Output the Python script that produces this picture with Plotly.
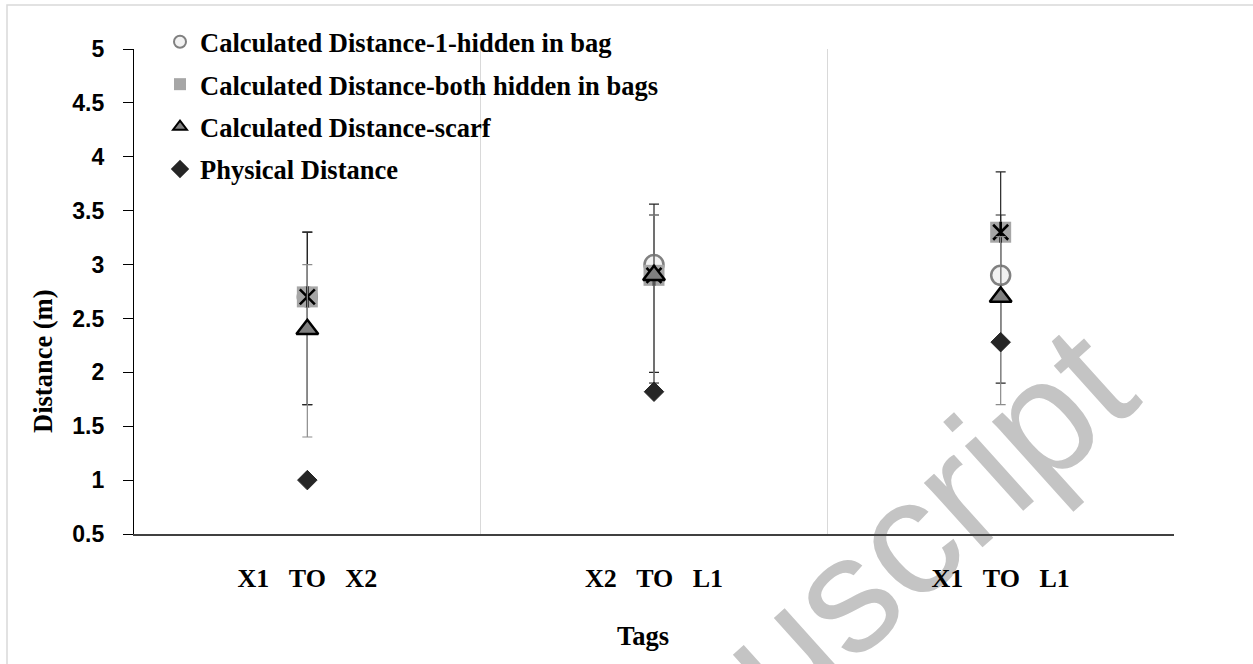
import plotly.graph_objects as go

# Tag pairs on the x axis
NB = "\u00a0" * 3
tags = [f"X1{NB}TO{NB}X2", f"X2{NB}TO{NB}L1", f"X1{NB}TO{NB}L1"]

# Distances in metres
hidden_one = [2.7, 3.0, 2.9]      # Calculated Distance-1-hidden in bag
hidden_both = [2.7, 2.9, 3.3]     # Calculated Distance-both hidden in bags
scarf = [2.4, 2.9, 2.7]           # Calculated Distance-scarf
physical = [1.0, 1.82, 2.28]      # Physical Distance

# Asymmetric error (upper / lower) on the calculated distances
err_plus = [0.6, 0.56, 0.56]
err_minus = [1.0, 1.0, 1.0]

W, H = 1253, 664
L, R, T, B = 134, 79, 49, 130
PW, PH = W - L - R, H - T - B


def px_x(px):
    return (px - L) / PW


def px_y(py):
    return (H - B - py) / PH


serif = dict(family="Liberation Serif", weight="bold", color="black")

fig = go.Figure()

fig.add_trace(go.Scatter(
    x=tags, y=hidden_one, mode="markers", name="Calculated Distance-1-hidden in bag",
    legendgroup="a",
    marker=dict(symbol="circle", size=19, color="#f2f2f2", line=dict(color="#808080", width=2.5)),
    error_y=dict(type="data", symmetric=False, array=err_plus, arrayminus=err_minus,
                 color="#262626", thickness=1.2, width=5),
))

fig.add_trace(go.Scatter(
    x=tags, y=hidden_both, mode="markers", name="Calculated Distance-both hidden in bags",
    legendgroup="b",
    marker=dict(symbol="square", size=21, color="#a6a6a6", line=dict(width=0)),
    error_y=dict(type="data", symmetric=False, array=err_plus, arrayminus=err_minus,
                 color="#262626", thickness=1.2, width=5),
))
# asterisk drawn over the grey square
for sym in ("x-thin-open", "line-ns-open"):
    fig.add_trace(go.Scatter(
        x=tags, y=hidden_both, mode="markers", showlegend=False, legendgroup="b",
        hoverinfo="skip",
        marker=dict(symbol=sym, size=15, color="black", line=dict(color="black", width=2.6)),
    ))

fig.add_trace(go.Scatter(
    x=tags, y=scarf, mode="markers", name="Calculated Distance-scarf",
    legendgroup="c",
    marker=dict(symbol="triangle-up", size=19, color="#808080", line=dict(color="black", width=2.5)),
    error_y=dict(type="data", symmetric=False, array=err_plus, arrayminus=err_minus,
                 color="#8c8c8c", thickness=1.2, width=5),
))

fig.add_trace(go.Scatter(
    x=tags, y=physical, mode="markers", name="Physical Distance",
    legendgroup="d",
    marker=dict(symbol="diamond", size=15, color="#262626", line=dict(color="#262626", width=1)),
))

fig.update_layout(
    width=W, height=H,
    margin=dict(l=L, r=R, t=T, b=B, autoexpand=False),
    paper_bgcolor="white", plot_bgcolor="white",
    showlegend=True,
    legend=dict(
        x=px_x(160), y=px_y(18), xanchor="left", yanchor="top",
        font=dict(size=26.5, **serif),
        itemsizing="constant", traceorder="grouped", tracegroupgap=5,
        bgcolor="rgba(0,0,0,0)", borderwidth=0,
    ),
    xaxis=dict(
        type="category", range=[-0.5, 2.5],
        tickson="boundaries", showgrid=True, gridcolor="#d9d9d9", gridwidth=1,
        ticks="", showline=True, linecolor="#404040", linewidth=2,
        tickfont=dict(size=26, **serif), ticklabelstandoff=20,
        automargin=False, zeroline=False,
    ),
    yaxis=dict(
        range=[0.5, 5], dtick=0.5, tick0=0.5, showgrid=False, zeroline=False,
        ticks="outside", ticklen=10, tickcolor="black", tickwidth=1,
        showline=True, linecolor="black", linewidth=1.2,
        tickfont=dict(family="Liberation Sans", weight="bold", size=23, color="black"),
        ticklabelstandoff=14,
        automargin=False,
    ),
    annotations=[
        dict(text="Distance (m)", textangle=-90, xref="paper", yref="paper",
             x=px_x(43), y=px_y(361), xanchor="center", yanchor="middle",
             showarrow=False, font=dict(size=26.5, **serif)),
        dict(text="Tags", xref="paper", yref="paper",
             x=px_x(643), y=px_y(636), xanchor="center", yanchor="middle",
             showarrow=False, font=dict(size=26.5, **serif)),
    ],
    shapes=[
        # light frame around the chart area
        dict(type="rect", xref="paper", yref="paper",
             x0=px_x(7), x1=px_x(1262), y0=px_y(672), y1=px_y(5),
             line=dict(color="#d9d9d9", width=1.5), fillcolor="rgba(0,0,0,0)", layer="below"),
        # diagonal watermark
        dict(type="rect", xref="paper", yref="paper",
             x0=px_x(855), x1=px_x(975), y0=px_y(570), y1=px_y(450),
             line=dict(width=0), fillcolor="rgba(0,0,0,0)", layer="below",
             label=dict(text="uscript", textangle=-42, textposition="middle center",
                        font=dict(family="Liberation Sans", size=165, color="#c4c4c4"))),
    ],
)

fig.write_html("out.html")
